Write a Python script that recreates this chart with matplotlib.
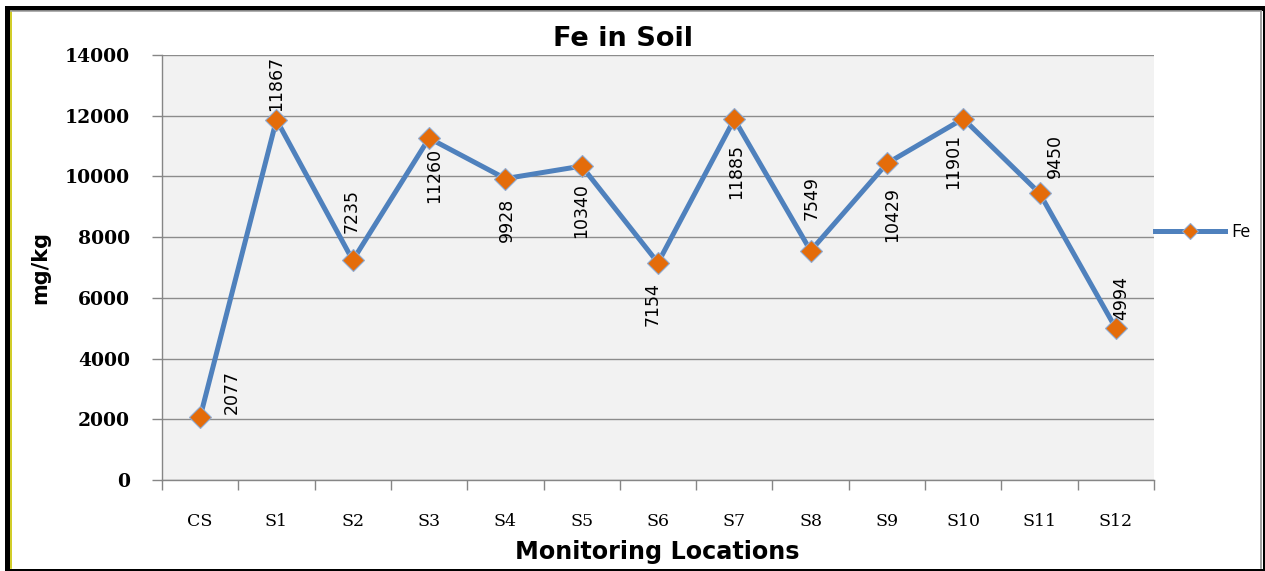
import matplotlib
matplotlib.use('Agg')
from matplotlib import pyplot as plt
from matplotlib import font_manager
from matplotlib.lines import Line2D
from matplotlib.patches import Rectangle


locations = ['CS', 'S1', 'S2', 'S3', 'S4', 'S5', 'S6', 'S7', 'S8', 'S9', 'S10', 'S11', 'S12']
fe = [2077, 11867, 7235, 11260, 9928, 10340, 7154, 11885, 7549, 10429, 11901, 9450, 4994]
y_ticks = [0, 2000, 4000, 6000, 8000, 10000, 12000, 14000]

# where each data label sits relative to its point (pixels, y up)
label_pos = [('right', 23, 3), ('above', 0, 9), ('above', -1, 27), ('below', 5, -10),
             ('below', 1, -19), ('below', -1, -17), ('below', -5, -19), ('below', 2, -25),
             ('above', 1, 31), ('below', 5, -24), ('below', -10, -15), ('above', 15, 15),
             ('above', 5, 8)]

W, H = 1265, 571

try:
    font_manager.findfont('Liberation Sans Narrow', fallback_to_default=False)
    lab_font, lab_size = 'Liberation Sans Narrow', 16
except Exception:
    lab_font, lab_size = 'DejaVu Sans', 12.5

fig = plt.figure(figsize=(W / 100, H / 100), dpi=100)
ax = fig.add_axes([162 / W, 1 - 480 / H, (1154 - 162) / W, (480 - 55) / H])
ax.set_facecolor('#f2f2f2')

x = list(range(len(locations)))
ax.plot(x, fe, color='#4f81bd', lw=3.6, marker='D', ms=11, mfc='#e46c0a',
        mec='#8fabd3', mew=0.8, label='Fe', zorder=3, clip_on=False)

for i, (v, (mode, dx, dy)) in enumerate(zip(fe, label_pos)):
    if mode == 'above':
        ha, va = 'center', 'bottom'
    elif mode == 'below':
        ha, va = 'center', 'top'
    else:
        ha, va = 'left', 'bottom'
    ax.annotate(str(v), (i, v), xytext=(dx, dy), textcoords='offset pixels',
                rotation=90, ha=ha, va=va, fontsize=lab_size, family=lab_font,
                color='black', zorder=4, annotation_clip=False)

ax.set_xlim(-0.5, len(locations) - 0.5)
ax.set_ylim(0, 14000)
ax.set_yticks(y_ticks)
ax.set_yticklabels([str(t) for t in y_ticks], fontsize=13.5, family='DejaVu Serif',
                   fontweight='bold')
ax.set_xticks(x)
ax.set_xticklabels(locations, fontsize=12.5, family='DejaVu Serif')
ax.set_xticks([i + 0.5 for i in range(-1, len(locations))], minor=True)
ax.tick_params(axis='x', which='major', length=0, pad=24)
ax.tick_params(axis='x', which='minor', length=7, width=1, color='#868686')
ax.tick_params(axis='y', length=7, width=1, color='#868686', pad=16)

ax.grid(axis='y', color='#8c8c8c', lw=1)
ax.set_axisbelow(True)
for s in ['top', 'right']:
    ax.spines[s].set_visible(False)
for s in ['left', 'bottom']:
    ax.spines[s].set_color('#868686')
    ax.spines[s].set_linewidth(1)

fig.text(623 / W, 1 - 39 / H, 'Fe in Soil', ha='center', va='center',
         fontsize=19.5, fontweight='bold', family='DejaVu Sans')
fig.text(657 / W, 1 - 552 / H, 'Monitoring Locations', ha='center', va='center',
         fontsize=17.2, fontweight='bold', family='DejaVu Sans')
fig.text(40 / W, 1 - 268 / H, 'mg/kg', ha='center', va='center', rotation=90,
         fontsize=15, fontweight='bold', family='DejaVu Sans')

ax.legend(loc='center left', bbox_to_anchor=(1155 / W, 1 - 232 / H),
          bbox_transform=fig.transFigure, frameon=False, markerscale=0.75,
          handlelength=3.9, handletextpad=0.3, borderpad=0, borderaxespad=0,
          prop={'family': 'Open Sans', 'size': 13})

# frame around the whole picture
fig.add_artist(Rectangle((7.5 / W, 0), (W - 7.5) / W, 1 - 7.5 / H,
                         transform=fig.transFigure, fill=False, lw=3.6,
                         edgecolor='black'))
fig.add_artist(Line2D([11 / W, 11 / W], [1 - 11 / H, 1 - 568 / H],
                      transform=fig.transFigure, color='#c8c400', lw=1.2))
fig.add_artist(Line2D([11 / W, 1261 / W], [1 - 11 / H, 1 - 11 / H],
                      transform=fig.transFigure, color='#a0a0a0', lw=1.2))
fig.add_artist(Line2D([1261 / W, 1261 / W], [1 - 11 / H, 1 - 568 / H],
                      transform=fig.transFigure, color='#909090', lw=1.2))

fig.savefig('out.png', dpi=100)
